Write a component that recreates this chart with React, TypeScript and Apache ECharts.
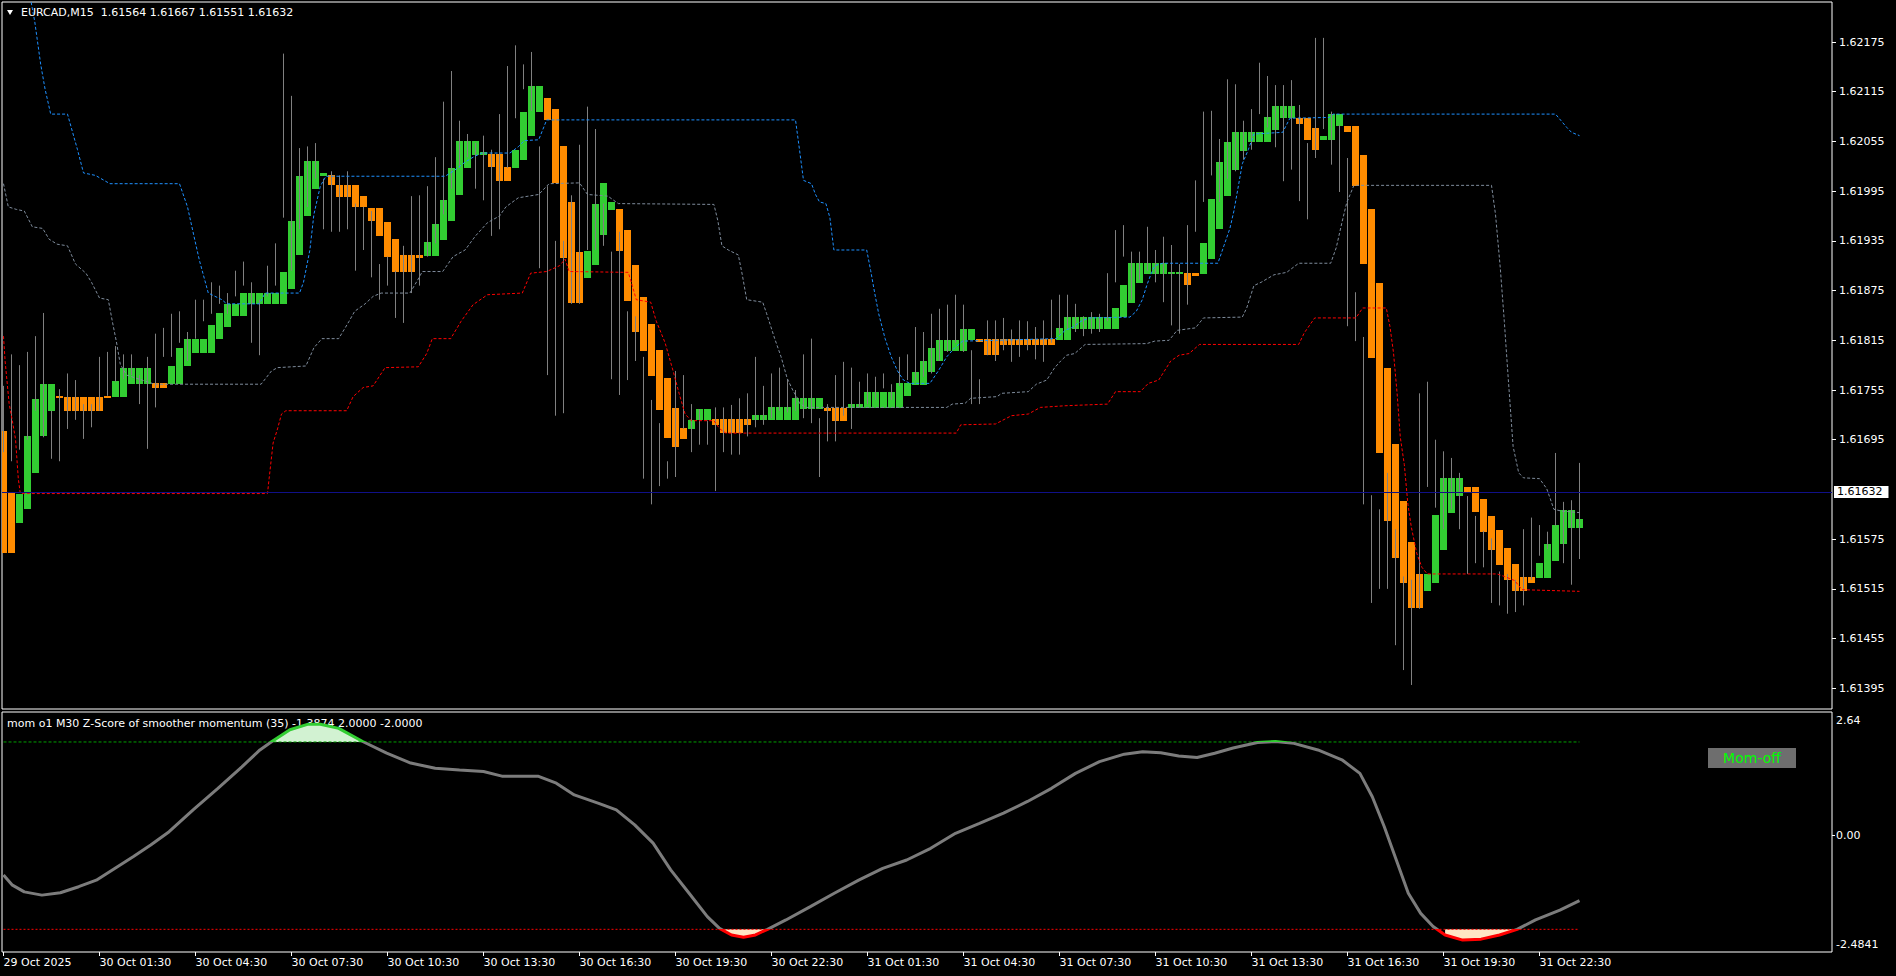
import React, { useEffect, useRef } from 'react';
import * as echarts from 'echarts';

const FONT = 'DejaVu Sans';
const symbolName = 'EURCAD';
const timeframe = 'M15';
const lastOHLC = [1.61564, 1.61667, 1.61551, 1.61632];

// coloured bodies (indicator open / close)
const bodyOpen = [
  1.61706, 1.61632, 1.61595, 1.61611, 1.61655, 1.61699, 1.61730, 1.61748, 1.61747, 1.61747,
  1.61747, 1.61747, 1.61747, 1.61748, 1.61747, 1.61747, 1.61762, 1.61762, 1.61762, 1.61763,
  1.61763, 1.61762, 1.61762, 1.61784, 1.61800, 1.61800, 1.61800, 1.61817, 1.61831, 1.61844,
  1.61844, 1.61859, 1.61859, 1.61859, 1.61859, 1.61859, 1.61877, 1.61918, 1.61965, 1.61998,
  1.62013, 1.62014, 1.62002, 1.62002, 1.62002, 1.61989, 1.61975, 1.61975, 1.61958, 1.61937,
  1.61918, 1.61918, 1.61918, 1.61917, 1.61917, 1.61936, 1.61959, 1.61990, 1.62023, 1.62039,
  1.62039, 1.62040, 1.62040, 1.62024, 1.62023, 1.62033, 1.62062, 1.62091, 1.62108, 1.62094,
  1.62049, 1.61982, 1.61922, 1.61890, 1.61906, 1.61942, 1.61972, 1.61973, 1.61948, 1.61906,
  1.61867, 1.61835, 1.61803, 1.61769, 1.61733, 1.61709, 1.61708, 1.61719, 1.61719, 1.61720,
  1.61720, 1.61720, 1.61720, 1.61720, 1.61719, 1.61719, 1.61719, 1.61719, 1.61719, 1.61719,
  1.61732, 1.61732, 1.61732, 1.61733, 1.61733, 1.61733, 1.61733, 1.61733, 1.61733, 1.61733,
  1.61733, 1.61733, 1.61733, 1.61748, 1.61761, 1.61761, 1.61777, 1.61790, 1.61802, 1.61802,
  1.61802, 1.61815, 1.61817, 1.61817, 1.61817, 1.61817, 1.61817, 1.61817, 1.61817, 1.61817,
  1.61817, 1.61817, 1.61815, 1.61815, 1.61829, 1.61829, 1.61829, 1.61829, 1.61829, 1.61829,
  1.61843, 1.61860, 1.61884, 1.61895, 1.61895, 1.61895, 1.61895, 1.61895, 1.61896, 1.61896,
  1.61895, 1.61913, 1.61949, 1.61989, 1.62021, 1.62043, 1.62054, 1.62054, 1.62054, 1.62069,
  1.62083, 1.62083, 1.62083, 1.62083, 1.62071, 1.62057, 1.62057, 1.62074, 1.62074, 1.62074,
  1.62039, 1.61973, 1.61884, 1.61782, 1.61690, 1.61621, 1.61572, 1.61533, 1.61512, 1.61522,
  1.61562, 1.61607, 1.61627, 1.61638, 1.61638, 1.61623, 1.61603, 1.61586, 1.61564, 1.61545,
  1.61529, 1.61529, 1.61528, 1.61528, 1.61549, 1.61569, 1.61589, 1.61589,
];
const bodyClose = [
  1.61558, 1.61558, 1.61629, 1.61700, 1.61744, 1.61762, 1.61762, 1.61745, 1.61730, 1.61730,
  1.61730, 1.61730, 1.61730, 1.61745, 1.61766, 1.61782, 1.61782, 1.61782, 1.61782, 1.61758,
  1.61758, 1.61784, 1.61806, 1.61817, 1.61817, 1.61817, 1.61833, 1.61848, 1.61859, 1.61859,
  1.61872, 1.61872, 1.61872, 1.61872, 1.61872, 1.61898, 1.61959, 1.62013, 1.62031, 1.62031,
  1.62017, 1.62002, 1.61988, 1.61988, 1.61976, 1.61976, 1.61959, 1.61941, 1.61916, 1.61898,
  1.61898, 1.61898, 1.61914, 1.61934, 1.61955, 1.61984, 1.62023, 1.62056, 1.62056, 1.62056,
  1.62042, 1.62024, 1.62007, 1.62007, 1.62045, 1.62091, 1.62122, 1.62122, 1.62081, 1.62005,
  1.61914, 1.61860, 1.61860, 1.61923, 1.61980, 1.62005, 1.61982, 1.61923, 1.61862, 1.61825,
  1.61802, 1.61772, 1.61731, 1.61697, 1.61686, 1.61696, 1.61719, 1.61732, 1.61732, 1.61713,
  1.61703, 1.61703, 1.61703, 1.61713, 1.61725, 1.61725, 1.61734, 1.61734, 1.61734, 1.61745,
  1.61745, 1.61745, 1.61745, 1.61730, 1.61718, 1.61718, 1.61738, 1.61738, 1.61753, 1.61753,
  1.61753, 1.61753, 1.61763, 1.61763, 1.61777, 1.61790, 1.61806, 1.61815, 1.61815, 1.61815,
  1.61829, 1.61829, 1.61813, 1.61797, 1.61797, 1.61809, 1.61809, 1.61809, 1.61809, 1.61809,
  1.61809, 1.61809, 1.61830, 1.61843, 1.61843, 1.61843, 1.61843, 1.61843, 1.61843, 1.61854,
  1.61882, 1.61908, 1.61908, 1.61908, 1.61908, 1.61908, 1.61898, 1.61898, 1.61882, 1.61893,
  1.61932, 1.61986, 1.62030, 1.62054, 1.62066, 1.62066, 1.62066, 1.62066, 1.62084, 1.62098,
  1.62098, 1.62098, 1.62076, 1.62057, 1.62045, 1.62062, 1.62088, 1.62088, 1.62066, 1.62001,
  1.61907, 1.61794, 1.61679, 1.61597, 1.61552, 1.61522, 1.61492, 1.61492, 1.61533, 1.61604,
  1.61649, 1.61649, 1.61649, 1.61632, 1.61608, 1.61584, 1.61562, 1.61544, 1.61526, 1.61512,
  1.61512, 1.61522, 1.61546, 1.61569, 1.61592, 1.61610, 1.61610, 1.61599,
];
// real bars (grey range)
const barLow = [
  1.61680, 1.61669, 1.61683, 1.61695, 1.61730, 1.61698, 1.61672, 1.61669, 1.61708, 1.61719,
  1.61696, 1.61710, 1.61730, 1.61748, 1.61765, 1.61768, 1.61773, 1.61738, 1.61684, 1.61734,
  1.61795, 1.61795, 1.61812, 1.61790, 1.61817, 1.61838, 1.61847, 1.61859, 1.61847, 1.61868,
  1.61881, 1.61812, 1.61797, 1.61868, 1.61881, 1.61963, 1.61899, 1.61949, 1.61976, 1.62010,
  1.61949, 1.61946, 1.61946, 1.61949, 1.61899, 1.61924, 1.61891, 1.61864, 1.61881, 1.61842,
  1.61836, 1.61872, 1.61881, 1.61916, 1.61932, 1.61967, 1.61998, 1.62023, 1.62036, 1.61998,
  1.61984, 1.61941, 1.61949, 1.62023, 1.62083, 1.62118, 1.62092, 1.61902, 1.61773, 1.61724,
  1.61727, 1.61859, 1.61859, 1.61924, 1.61924, 1.61929, 1.61768, 1.61749, 1.61767, 1.61790,
  1.61648, 1.61617, 1.61639, 1.61648, 1.61650, 1.61708, 1.61680, 1.61689, 1.61689, 1.61633,
  1.61680, 1.61677, 1.61677, 1.61699, 1.61710, 1.61713, 1.61721, 1.61730, 1.61728, 1.61730,
  1.61721, 1.61715, 1.61650, 1.61693, 1.61693, 1.61724, 1.61708, 1.61734, 1.61738, 1.61743,
  1.61757, 1.61743, 1.61760, 1.61767, 1.61767, 1.61771, 1.61775, 1.61790, 1.61801, 1.61812,
  1.61801, 1.61738, 1.61738, 1.61797, 1.61790, 1.61803, 1.61789, 1.61795, 1.61803, 1.61792,
  1.61789, 1.61812, 1.61823, 1.61829, 1.61825, 1.61820, 1.61823, 1.61825, 1.61838, 1.61885,
  1.61916, 1.61864, 1.61888, 1.61899, 1.61885, 1.61861, 1.61833, 1.61823, 1.61858, 1.61946,
  1.61982, 1.62014, 1.61982, 1.62010, 1.62019, 1.62033, 1.62045, 1.62088, 1.62072, 1.62048,
  1.62007, 1.62021, 1.61983, 1.61961, 1.62035, 1.62070, 1.62027, 1.61994, 1.61832, 1.61814,
  1.61617, 1.61498, 1.61515, 1.61515, 1.61447, 1.61417, 1.61399, 1.61491, 1.61638, 1.61613,
  1.61587, 1.61611, 1.61587, 1.61533, 1.61546, 1.61541, 1.61498, 1.61495, 1.61485, 1.61487,
  1.61495, 1.61526, 1.61555, 1.61563, 1.61591, 1.61546, 1.61520, 1.61551,
];
const barHigh = [
  1.61760, 1.61798, 1.61785, 1.61801, 1.61820, 1.61848, 1.61730, 1.61756, 1.61775, 1.61767,
  1.61738, 1.61738, 1.61795, 1.61801, 1.61808, 1.61798, 1.61798, 1.61773, 1.61795, 1.61823,
  1.61830, 1.61847, 1.61850, 1.61825, 1.61864, 1.61864, 1.61885, 1.61881, 1.61872, 1.61899,
  1.61910, 1.61885, 1.61864, 1.61905, 1.61932, 1.62161, 1.62110, 1.62047, 1.62049, 1.62053,
  1.62010, 1.62019, 1.62014, 1.62019, 1.61980, 1.61976, 1.61971, 1.61907, 1.61916, 1.61899,
  1.61929, 1.61989, 1.61990, 1.62001, 1.62036, 1.62103, 1.62140, 1.62080, 1.62064, 1.62053,
  1.62062, 1.62045, 1.62088, 1.62146, 1.62171, 1.62148, 1.62163, 1.62049, 1.62001, 1.61935,
  1.61935, 1.61990, 1.62051, 1.62097, 1.62070, 1.61980, 1.61922, 1.61946, 1.61850, 1.61844,
  1.61795, 1.61743, 1.61715, 1.61669, 1.61778, 1.61773, 1.61738, 1.61732, 1.61718, 1.61734,
  1.61734, 1.61737, 1.61745, 1.61751, 1.61795, 1.61760, 1.61775, 1.61782, 1.61768, 1.61755,
  1.61798, 1.61817, 1.61721, 1.61738, 1.61773, 1.61789, 1.61782, 1.61765, 1.61775, 1.61771,
  1.61775, 1.61762, 1.61795, 1.61798, 1.61831, 1.61825, 1.61847, 1.61853, 1.61858, 1.61870,
  1.61858, 1.61803, 1.61768, 1.61839, 1.61839, 1.61842, 1.61828, 1.61839, 1.61838, 1.61831,
  1.61839, 1.61864, 1.61870, 1.61870, 1.61859, 1.61844, 1.61849, 1.61847, 1.61896, 1.61948,
  1.61954, 1.61922, 1.61922, 1.61952, 1.61924, 1.61940, 1.61930, 1.61907, 1.61954, 1.62008,
  1.62091, 1.62092, 1.62058, 1.62130, 1.62124, 1.62080, 1.62094, 1.62150, 1.62134, 1.62123,
  1.62123, 1.62129, 1.62099, 1.62053, 1.62180, 1.62180, 1.62091, 1.62075, 1.62035, 1.61873,
  1.61819, 1.61628, 1.61611, 1.61655, 1.61587, 1.61530, 1.61526, 1.61751, 1.61765, 1.61695,
  1.61681, 1.61673, 1.61655, 1.61627, 1.61603, 1.61585, 1.61576, 1.61536, 1.61533, 1.61526,
  1.61587, 1.61601, 1.61592, 1.61584, 1.61679, 1.61620, 1.61622, 1.61667,
];

// channel lines: [bar index, price] vertices
const upperBand = [
  [0, 1.6232], [3.4, 1.62226], [3.9, 1.622], [4.65, 1.62148], [5.2, 1.62118], [5.9, 1.62088], [8, 1.62088],
  [9.25, 1.62045], [10, 1.62017], [11.5, 1.62014], [13.3, 1.62004], [22, 1.62004], [23, 1.61976],
  [23.8, 1.61941], [24.5, 1.61911], [25.6, 1.61872], [27.3, 1.61864], [27.9, 1.61859], [32, 1.61859],
  [32.7, 1.61872], [37, 1.61872], [37.5, 1.61885], [38.3, 1.61924], [38.8, 1.61967], [39.6, 1.62001],
  [40.3, 1.62013], [55.2, 1.62013], [56.2, 1.62019], [57.7, 1.6203], [58.7, 1.62036], [59.75, 1.62041],
  [63.3, 1.62041], [64.4, 1.62049], [65.1, 1.62056], [66.9, 1.62057], [67.9, 1.62081], [99, 1.62081],
  [99.5, 1.62045], [100, 1.62008], [101, 1.62004], [101.5, 1.61991], [102, 1.61982], [102.8, 1.6198],
  [103.3, 1.61963], [103.8, 1.61924], [107.9, 1.61924], [108.4, 1.61899], [108.9, 1.61872],
  [109.4, 1.61847], [110.2, 1.61817], [110.97, 1.61795], [111.75, 1.61778], [112.5, 1.61767],
  [113.3, 1.61763], [115.8, 1.61763], [116.85, 1.61778], [117.9, 1.61795], [118.9, 1.61806],
  [119.9, 1.61814], [131.6, 1.61817], [132.7, 1.61827], [133.7, 1.61831], [134.7, 1.61838],
  [135.7, 1.61842], [140.8, 1.61843], [141.6, 1.6185], [142.35, 1.61864], [142.9, 1.61881],
  [143.4, 1.61894], [143.9, 1.61905], [144.9, 1.61908], [151.8, 1.61908], [152.55, 1.61929],
  [153.3, 1.6195], [153.8, 1.61971], [154.3, 1.61998], [154.85, 1.62028], [155.6, 1.62045],
  [156.3, 1.62064], [159.9, 1.62066], [160.8, 1.62083], [165.7, 1.62084], [166.2, 1.62088],
  [194, 1.62088], [194.7, 1.6208], [195.4, 1.62072], [196, 1.62066], [197, 1.62062],
];
const midBand = [
  [0, 1.62004], [0.6, 1.61976], [1.6, 1.61973], [2.6, 1.61971], [3.6, 1.61952], [4.9, 1.6195],
  [5.7, 1.61937], [6.7, 1.61931], [8, 1.61929], [9, 1.61907], [10.3, 1.61896], [11, 1.61885],
  [12, 1.61866], [13.1, 1.61864], [13.6, 1.61838], [14.1, 1.61814], [14.6, 1.61786], [15.4, 1.61773],
  [18.9, 1.61762], [32.2, 1.61762], [33.5, 1.61778], [34.25, 1.61782], [37.8, 1.61784], [38.8, 1.61806],
  [39.8, 1.61817], [41.9, 1.61817], [43.2, 1.61838], [43.9, 1.6185], [45.2, 1.61859], [46.2, 1.61868],
  [47.2, 1.61872], [50.8, 1.61872], [51.85, 1.61889], [52.35, 1.61898], [54.9, 1.61898], [56.2, 1.61916],
  [57.7, 1.61924], [59, 1.61941], [60.5, 1.61957], [62, 1.61965], [62.8, 1.61976], [64.35, 1.61987],
  [66.9, 1.61991], [68.2, 1.62004], [72, 1.62005], [73, 1.61991], [75.55, 1.61989], [76.85, 1.6198],
  [88.8, 1.61979], [89.3, 1.61959], [89.8, 1.61929], [90.6, 1.61924], [91.85, 1.61918], [92.35, 1.61894],
  [92.9, 1.61864], [94.9, 1.61861], [95.4, 1.61847], [96.4, 1.61817], [97.2, 1.61795], [97.96, 1.61769],
  [98.7, 1.61754], [99.25, 1.61745], [99.5, 1.61739], [100.3, 1.61734], [117.9, 1.61734],
  [118.6, 1.61738], [120.2, 1.61739], [120.9, 1.61745], [124.2, 1.61747], [124.75, 1.61751],
  [128.1, 1.61753], [129.1, 1.61762], [130.4, 1.61767], [131.4, 1.61782], [132.15, 1.6179],
  [132.9, 1.61797], [133.9, 1.61799], [135.2, 1.6181], [142.9, 1.61811], [143.9, 1.61814],
  [145.7, 1.61815], [146.7, 1.61827], [149, 1.6183], [150, 1.61842], [154.85, 1.61843], [155.4, 1.61854],
  [156.3, 1.61881], [157.2, 1.61885], [158.8, 1.61894], [160.4, 1.61897], [161.9, 1.61908],
  [165.9, 1.61908], [166.6, 1.61927], [167.3, 1.61957], [167.9, 1.61981], [168.8, 1.62002],
  [186, 1.62002], [186.5, 1.61967], [187.1, 1.61902], [187.6, 1.61838], [188.1, 1.61768],
  [188.7, 1.61687], [189.4, 1.61655], [190, 1.61649], [192, 1.61648], [192.9, 1.61636], [193.8, 1.61611],
  [194.7, 1.61609], [197, 1.61607],
];
const lowerBand = [
  [0, 1.6182], [0.2, 1.6179], [0.7, 1.61739], [1.1, 1.61718], [1.5, 1.61696], [1.85, 1.61648],
  [2.1, 1.6163], [33, 1.6163], [33.2, 1.61648], [33.7, 1.61691], [34.25, 1.61708], [34.75, 1.61726],
  [35.3, 1.6173], [42.9, 1.6173], [43.7, 1.61747], [44.96, 1.61758], [46.2, 1.6176], [47.7, 1.61782],
  [51.85, 1.61783], [52.9, 1.61799], [53.6, 1.61817], [55.9, 1.61817], [57.2, 1.61838], [58.7, 1.61858],
  [60.5, 1.6187], [64.85, 1.61872], [65.9, 1.61896], [67.9, 1.61898], [69.5, 1.61905], [70.2, 1.61913],
  [70.7, 1.61898], [78.1, 1.61897], [78.6, 1.61881], [79.1, 1.61864], [80.9, 1.61861], [81.6, 1.61838],
  [82.7, 1.61812], [83.7, 1.61778], [84.45, 1.61751], [85.2, 1.61726], [85.97, 1.61718], [88.8, 1.61718],
  [89.55, 1.61708], [90.3, 1.61703], [119.1, 1.61703], [119.65, 1.61713], [124, 1.61714], [126, 1.61724],
  [128.1, 1.61726], [129.6, 1.61734], [132.7, 1.61736], [138, 1.61738], [139, 1.61753], [142.1, 1.61753],
  [143.1, 1.61763], [144.4, 1.61767], [145.9, 1.6179], [146.95, 1.61797], [148.2, 1.61799],
  [149.5, 1.6181], [161.9, 1.6181], [162.6, 1.61824], [163.9, 1.61842], [169.05, 1.61842],
  [169.9, 1.61854], [172.85, 1.61854], [173.3, 1.61832], [173.75, 1.618], [174.2, 1.61751],
  [174.6, 1.61698], [175.1, 1.61665], [175.55, 1.61617], [175.97, 1.6159], [176.65, 1.61558],
  [177.3, 1.61541], [177.97, 1.61533], [186.7, 1.61533], [187.6, 1.6153], [188.9, 1.61525],
  [189.8, 1.61514], [197, 1.61512],
];

// Z-score of smoother momentum: [bar index, value]
const zScore = [
  [0, -0.84], [1.06, -1.05], [2.6, -1.2], [4.8, -1.27], [7.1, -1.22], [9.4, -1.09], [11.6, -0.95],
  [13.9, -0.7], [16.2, -0.45], [18.4, -0.2], [20.7, 0.085], [23.7, 0.55], [26.8, 1.01], [29.8, 1.47],
  [32.05, 1.83], [33.55, 2.01], [35.8, 2.26], [38.1, 2.38], [39.6, 2.38], [41.9, 2.29], [44.9, 2.01],
  [47.9, 1.76], [50.9, 1.55], [53.96, 1.44], [57, 1.4], [60, 1.37], [62.3, 1.27], [66.8, 1.27],
  [69.1, 1.12], [71.35, 0.87], [74.4, 0.69], [76.6, 0.55], [78.9, 0.23], [81.2, -0.16], [83.4, -0.73],
  [85.7, -1.23], [87.98, -1.73], [89.5, -1.98], [91, -2.12], [92.5, -2.17], [94, -2.12], [95.5, -2.0],
  [97.8, -1.8], [100.8, -1.52], [103.85, -1.23], [106.9, -0.95], [109.9, -0.7], [112.9, -0.52],
  [115.9, -0.27], [119, 0.05], [122, 0.26], [125, 0.48], [128, 0.73], [131, 1.01], [134, 1.33],
  [137, 1.58], [140.1, 1.74], [142.4, 1.79], [144.65, 1.77], [146.9, 1.7], [149.2, 1.67], [151.4, 1.76],
  [153.7, 1.87], [156.75, 1.99], [159, 2.01], [161.3, 1.97], [164.3, 1.83], [167.3, 1.62],
  [169.55, 1.33], [171.1, 0.83], [172.6, 0.19], [174.1, -0.52], [175.6, -1.23], [177.15, -1.66],
  [178.7, -1.94], [180.2, -2.12], [182.4, -2.23], [184.7, -2.21], [187, -2.12], [189.2, -2.0],
  [191.5, -1.8], [194.55, -1.59], [197, -1.3874],
];
const zLevels = [2, -2];
const indicatorName = 'mom o1 M30 Z-Score of smoother momentum (35)';
const statusText = 'Mom-off';

const priceTicks = [
  1.61395, 1.61455, 1.61515, 1.61575, 1.61695, 1.61755, 1.61815, 1.61875, 1.61935, 1.61995,
  1.62055, 1.62115, 1.62175,
];
const timeTickBars = [0, 12, 24, 36, 48, 60, 72, 84, 96, 108, 120, 132, 144, 156, 168, 180, 192];
const timeTickLabels = [
  '29 Oct 2025', '30 Oct 01:30', '30 Oct 04:30', '30 Oct 07:30', '30 Oct 10:30', '30 Oct 13:30',
  '30 Oct 16:30', '30 Oct 19:30', '30 Oct 22:30', '31 Oct 01:30', '31 Oct 04:30', '31 Oct 07:30',
  '31 Oct 10:30', '31 Oct 13:30', '31 Oct 16:30', '31 Oct 19:30', '31 Oct 22:30',
];
const zTicks = [-2.4841, 0, 2.64];
const zTickLabels = ['-2.4841', '0.00', '2.64'];

const GREEN = '#32CD32';
const ORANGE = '#FF8C00';
const WICK = '#808080';
const TEXT = '#FFFFFF';

function buildOption() {
  const nBars = bodyOpen.length;
  const lastBar = nBars - 1;
  const XMIN = -0.1875;
  const XMAX = XMIN + 1830 / 8;
  const candleData = bodyOpen.map((o, i) => [i, o, bodyClose[i], barLow[i], barHigh[i]]);
  const greenFill = zScore.map((p) => (p[1] >= zLevels[0] ? p : [p[0], null]));
  const redFill = zScore.map((p) => (p[1] <= zLevels[1] + 0.025 ? p : [p[0], null]));
  const lastClose = lastOHLC[3];
  const title = `${symbolName},${timeframe}  ${lastOHLC.map((v) => v.toFixed(5)).join(' ')}`;
  const zLast = zScore[zScore.length - 1][1];
  const indTitle = `${indicatorName} ${zLast.toFixed(4)} ${zLevels[0].toFixed(4)} ${zLevels[1].toFixed(4)}`;

  const bandSeries = (data: number[][], color: string, dash: number[], extra: any = {}) => ({
    type: 'line',
    xAxisIndex: 0,
    yAxisIndex: 0,
    data,
    showSymbol: false,
    symbol: 'none',
    silent: true,
    z: 3,
    lineStyle: { color, width: 1, type: dash },
    ...extra,
  });

  return {
    animation: false,
    backgroundColor: '#000000',
    textStyle: { fontFamily: FONT },
    grid: [
      { left: 2, top: 2, width: 1830, height: 707, show: true, borderColor: '#FFFFFF', borderWidth: 1, backgroundColor: 'transparent' },
      { left: 2, top: 712, width: 1830, height: 240, show: true, borderColor: '#FFFFFF', borderWidth: 1, backgroundColor: 'transparent' },
    ],
    xAxis: [
      { type: 'value', gridIndex: 0, min: XMIN, max: XMAX, show: false },
      {
        type: 'value',
        gridIndex: 1,
        min: XMIN,
        max: XMAX,
        position: 'bottom',
        axisLine: { show: false, onZero: false },
        splitLine: { show: false },
        axisTick: { show: true, customValues: timeTickBars, length: 4, lineStyle: { color: TEXT } },
        axisLabel: {
          customValues: timeTickBars,
          formatter: (v: number) => {
            const k = timeTickBars.indexOf(Math.round(v));
            return k >= 0 ? timeTickLabels[k] : '';
          },
          color: TEXT,
          fontSize: 11,
          fontFamily: FONT,
          align: 'left',
          margin: 5,
        },
      },
    ],
    yAxis: [
      {
        type: 'value',
        gridIndex: 0,
        position: 'right',
        min: 1.6137,
        max: 1.622233,
        axisLine: { show: false, onZero: false },
        splitLine: { show: false },
        axisTick: { show: true, customValues: priceTicks, length: 4, lineStyle: { color: TEXT } },
        axisLabel: {
          customValues: priceTicks,
          formatter: (v: number) => v.toFixed(5),
          color: TEXT,
          fontSize: 11,
          fontFamily: FONT,
          margin: 7,
        },
      },
      {
        type: 'value',
        gridIndex: 1,
        position: 'right',
        min: zTicks[0],
        max: zTicks[2],
        axisLine: { show: false, onZero: false },
        splitLine: { show: false },
        axisTick: { show: true, customValues: [zTicks[1]], length: 3, lineStyle: { color: TEXT } },
        axisLabel: {
          customValues: zTicks,
          formatter: (v: number) => {
            const k = zTicks.findIndex((t) => Math.abs(t - v) < 1e-6);
            const s = zTickLabels[k];
            if (k === 0) return s + '\n ';
            if (k === 2) return ' \n' + s;
            return s;
          },
          lineHeight: 16,
          color: TEXT,
          fontSize: 11,
          fontFamily: FONT,
          margin: 4,
        },
      },
    ],
    visualMap: [
      {
        type: 'piecewise',
        show: false,
        seriesIndex: 6,
        dimension: 1,
        pieces: [
          { lt: zLevels[1], color: '#FF0000' },
          { gte: zLevels[1], lte: zLevels[0], color: '#7C7C7C' },
          { gt: zLevels[0], color: GREEN },
        ],
      },
    ],
    series: [
      {
        type: 'custom',
        xAxisIndex: 0,
        yAxisIndex: 0,
        data: candleData,
        clip: true,
        z: 2,
        silent: true,
        renderItem: (params: any, api: any) => {
          const i = api.value(0);
          const o = api.value(1);
          const c = api.value(2);
          const lo = api.value(3);
          const hi = api.value(4);
          const pO = api.coord([i, o]);
          const pC = api.coord([i, c]);
          const pL = api.coord([i, lo]);
          const pH = api.coord([i, hi]);
          const w = api.size([1, 0])[0] * 0.875;
          const top = Math.round(Math.min(pO[1], pC[1]));
          const bot = Math.round(Math.max(pO[1], pC[1]));
          const h = Math.max(bot - top, 2);
          const up = c >= o;
          return {
            type: 'group',
            children: [
              { type: 'rect', shape: { x: pO[0] - w / 2, y: top, width: w, height: h }, style: { fill: up ? GREEN : ORANGE } },
              { type: 'line', shape: { x1: pH[0], y1: pH[1], x2: pL[0], y2: pL[1] }, style: { stroke: WICK, lineWidth: 1 } },
            ],
          };
        },
      },
      bandSeries(lowerBand, '#FF0000', [3, 2]),
      bandSeries(midBand, '#7F8C9C', [3, 2]),
      bandSeries(upperBand, '#1E90FF', [3, 2], {
        markLine: {
          silent: true,
          symbol: 'none',
          animation: false,
          lineStyle: { color: '#101088', type: 'solid', width: 1 },
          label: {
            show: true,
            position: 'end',
            distance: 2,
            formatter: lastClose.toFixed(5),
            backgroundColor: '#FFFFFF',
            color: '#000000',
            fontSize: 11,
            fontFamily: FONT,
            padding: [1, 6, 0, 3],
          },
          data: [[{ coord: [XMIN, lastClose] }, { coord: [XMAX, lastClose] }]],
        },
      }),
      {
        type: 'line',
        xAxisIndex: 1,
        yAxisIndex: 1,
        data: greenFill,
        showSymbol: false,
        symbol: 'none',
        silent: true,
        connectNulls: false,
        z: 2,
        lineStyle: { width: 0, opacity: 0 },
        areaStyle: { color: '#D2F2D2', opacity: 1, origin: zLevels[0] },
      },
      {
        type: 'line',
        xAxisIndex: 1,
        yAxisIndex: 1,
        data: redFill,
        showSymbol: false,
        symbol: 'none',
        silent: true,
        connectNulls: false,
        z: 2,
        lineStyle: { width: 0, opacity: 0 },
        areaStyle: { color: '#FFE6C4', opacity: 1, origin: zLevels[1] },
      },
      {
        type: 'line',
        xAxisIndex: 1,
        yAxisIndex: 1,
        data: zScore,
        showSymbol: false,
        symbol: 'none',
        silent: true,
        z: 4,
        lineStyle: { width: 3 },
      },
      {
        type: 'line',
        xAxisIndex: 1,
        yAxisIndex: 1,
        data: [[0, zLevels[0]], [lastBar, zLevels[0]]],
        showSymbol: false,
        symbol: 'none',
        silent: true,
        z: 3,
        lineStyle: { width: 1, color: '#00A000', type: [3, 2] },
      },
      {
        type: 'line',
        xAxisIndex: 1,
        yAxisIndex: 1,
        data: [[0, zLevels[1]], [lastBar, zLevels[1]]],
        showSymbol: false,
        symbol: 'none',
        silent: true,
        z: 3,
        lineStyle: { width: 1, color: '#FF0000', type: [2, 2] },
      },
    ],
    graphic: [
      { type: 'polygon', silent: true, shape: { points: [[7, 10], [13, 10], [10, 15]] }, style: { fill: TEXT } },
      { type: 'text', silent: true, x: 21, y: 12, style: { text: title, fill: TEXT, font: `11px "${FONT}"`, verticalAlign: 'middle' } },
      { type: 'text', silent: true, x: 7, y: 723, style: { text: indTitle, fill: TEXT, font: `11px "${FONT}"`, verticalAlign: 'middle' } },
      { type: 'rect', silent: true, shape: { x: 1708, y: 748, width: 88, height: 20 }, style: { fill: '#6E6E6E' } },
      { type: 'text', silent: true, x: 1752, y: 758, style: { text: statusText, fill: '#00FF00', font: `14px "${FONT}"`, align: 'center', verticalAlign: 'middle' } },
    ],
  };
}

export default function App() {
  const ref = useRef<HTMLDivElement>(null);
  useEffect(() => {
    document.body.style.margin = '0';
    document.body.style.background = '#000000';
    const chart = echarts.init(ref.current as HTMLDivElement, null, { renderer: 'svg' });
    chart.setOption(buildOption() as any);
    return () => chart.dispose();
  }, []);
  return <div ref={ref} style={{ width: 1896, height: 976, background: '#000000' }} />;
}
